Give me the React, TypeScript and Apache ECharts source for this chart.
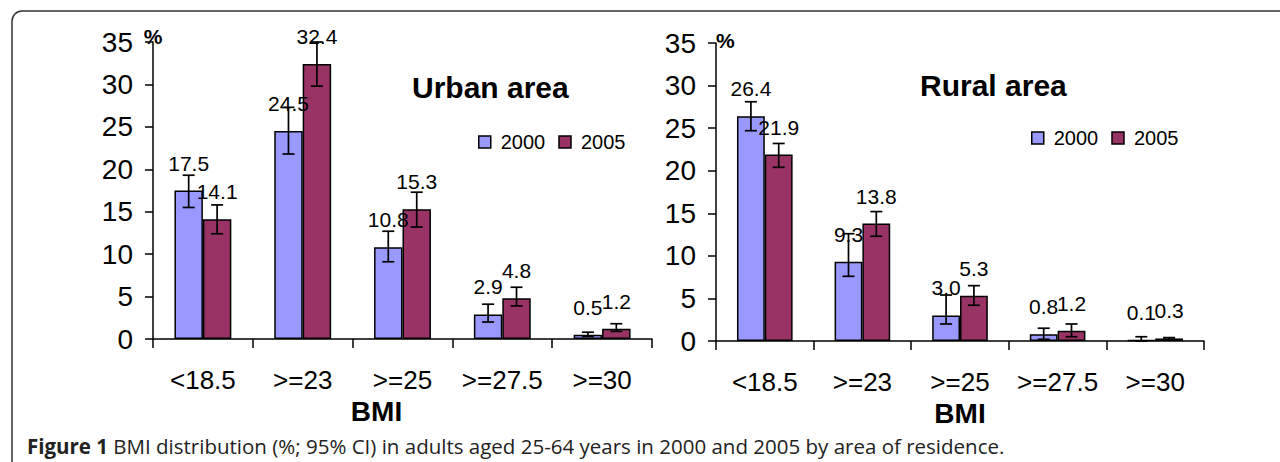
import React, { useEffect, useRef } from "react";
import * as echarts from "echarts";

const categories = ["<18.5", ">=23", ">=25", ">=27.5", ">=30"];
const yTicks = [0, 5, 10, 15, 20, 25, 30, 35];

const urban2000 = [17.5, 24.5, 10.8, 2.9, 0.5];
const urban2005 = [14.1, 32.4, 15.3, 4.8, 1.2];
const urban2000Low = [15.5, 21.8, 9.1, 2.0, 0.3];
const urban2000High = [19.3, 27.3, 12.7, 4.1, 0.8];
const urban2005Low = [12.4, 29.8, 13.2, 3.9, 0.9];
const urban2005High = [15.8, 35.0, 17.3, 6.1, 1.8];

const rural2000 = [26.4, 9.3, 3.0, 0.8, 0.1];
const rural2005 = [21.9, 13.8, 5.3, 1.2, 0.3];
const rural2000Low = [24.7, 7.6, 2.0, 0.2, 0.0];
const rural2000High = [28.1, 12.6, 5.4, 1.5, 0.5];
const rural2005Low = [20.4, 12.3, 4.2, 0.5, 0.2];
const rural2005High = [23.2, 15.2, 6.5, 2.0, 0.4];

const FONT = "'Liberation Sans', Arial, sans-serif";
const C2000 = "#9999FF";
const C2005 = "#993366";
const GAP = 0.43;

function errRenderer(sign: number) {
  return (params: any, api: any) => {
    const cat = api.value(0);
    const lo = api.coord([cat, api.value(1)]);
    const hi = api.coord([cat, api.value(2)]);
    const band = api.size([1, 0])[0];
    const barW = (band * (1 - GAP)) / 2;
    const x = lo[0] + (sign * barW) / 2;
    const cap = 6;
    const st = { stroke: "#000", lineWidth: 1.7 };
    return {
      type: "group",
      children: [
        { type: "line", shape: { x1: x, y1: hi[1], x2: x, y2: lo[1] }, style: st },
        { type: "line", shape: { x1: x - cap, y1: hi[1], x2: x + cap, y2: hi[1] }, style: st },
        { type: "line", shape: { x1: x - cap, y1: lo[1], x2: x + cap, y2: lo[1] }, style: st },
      ],
    };
  };
}

function barSeries(name: string, data: number[], color: string, idx: number) {
  return {
    type: "bar",
    name,
    xAxisIndex: idx,
    yAxisIndex: idx,
    data,
    barGap: "0%",
    barCategoryGap: GAP * 100 + "%",
    itemStyle: { color, borderColor: "#000", borderWidth: 1.5 },
    label: {
      show: true,
      position: "top",
      distance: 17,
      formatter: (p: any) => Number(p.value).toFixed(1),
      fontFamily: FONT,
      fontSize: 21,
      color: "#000",
    },
    z: 2,
  };
}

function errSeries(low: number[], high: number[], sign: number, idx: number) {
  return {
    type: "custom",
    xAxisIndex: idx,
    yAxisIndex: idx,
    renderItem: errRenderer(sign),
    data: low.map((l, i) => [i, l, high[i]]),
    encode: { x: 0, y: [1, 2] },
    z: 5,
    silent: true,
  };
}

export default function App() {
  const ref = useRef<HTMLDivElement>(null);
  useEffect(() => {
    if (!ref.current) return;
    const chart = echarts.init(ref.current, null, { renderer: "svg" });
    const yAxisBase = (idx: number, gridIndex: number) => ({
      type: "value",
      gridIndex,
      min: yTicks[0],
      max: yTicks[yTicks.length - 1],
      interval: 5,
      splitLine: { show: false },
      axisLine: { show: true, lineStyle: { color: "#000", width: 1.5 } },
      axisTick: { show: true, length: 8, lineStyle: { color: "#000", width: 1.5 } },
      axisLabel: { fontFamily: FONT, fontSize: 28, color: "#000", margin: 20 },
      name: "%",
      nameLocation: "end",
      nameGap: idx === 0 ? -5 : -8,
      nameTextStyle: {
        fontFamily: FONT,
        fontSize: 21,
        fontWeight: "bold",
        color: "#000",
        align: idx === 0 ? "center" : "left",
      },
    });
    const xAxisBase = (gridIndex: number, padRight: number) => ({
      type: "category",
      gridIndex,
      data: categories,
      axisLine: { show: true, lineStyle: { color: "#000", width: 1.5 } },
      axisTick: { show: true, length: 9, lineStyle: { color: "#000", width: 1.5 } },
      axisLabel: { interval: 0, fontFamily: FONT, fontSize: 26, color: "#000", margin: 28 },
      name: "BMI",
      nameLocation: "middle",
      nameGap: 56,
      nameTextStyle: {
        fontFamily: FONT,
        fontSize: 28,
        fontWeight: "bold",
        color: "#000",
        padding: [0, padRight, 0, 0],
      },
    });
    const legendBase = (left: number, top: number) => ({
      left,
      top,
      padding: 0,
      orient: "horizontal",
      data: ["2000", "2005"],
      itemWidth: 12,
      itemHeight: 12,
      itemGap: 13,
      icon: "rect",
      itemStyle: { borderColor: "#000", borderWidth: 1.5 },
      textStyle: { fontFamily: FONT, fontSize: 20, color: "#000", padding: [0, 0, 0, 5] },
      selectedMode: false,
    });
    chart.setOption({
      animation: false,
      grid: [
        { left: 153, top: 42, width: 499, height: 297 },
        { left: 716, top: 43, width: 488, height: 298 },
      ],
      xAxis: [xAxisBase(0, 52), xAxisBase(1, 0)],
      yAxis: [yAxisBase(0, 0), yAxisBase(1, 1)],
      legend: [legendBase(478, 132), legendBase(1031, 128)],
      title: [
        {
          text: "Urban area",
          left: 412,
          top: 72,
          padding: 0,
          textStyle: { fontFamily: FONT, fontSize: 30, fontWeight: "bold", color: "#000" },
        },
        {
          text: "Rural area",
          left: 920,
          top: 70,
          padding: 0,
          textStyle: { fontFamily: FONT, fontSize: 30, fontWeight: "bold", color: "#000" },
        },
      ],
      graphic: [
        {
          type: "rect",
          shape: { x: 12, y: 11, width: 1300, height: 500, r: 10 },
          style: { fill: "none", stroke: "#333", lineWidth: 1.5 },
          silent: true,
        },
        {
          type: "text",
          x: 27,
          y: 446,
          style: {
            text: "{b|Figure 1} BMI distribution (%; 95% CI) in adults aged 25-64 years in 2000 and 2005 by area of residence.",
            fontFamily: "'Open Sans', sans-serif",
            fontSize: 20.5,
            fill: "#222",
            verticalAlign: "middle",
            rich: {
              b: {
                fontFamily: "'Open Sans', sans-serif",
                fontSize: 20.5,
                fontWeight: "bold",
                fill: "#222",
              },
            },
          },
        },
      ],
      series: [
        barSeries("2000", urban2000, C2000, 0),
        barSeries("2005", urban2005, C2005, 0),
        errSeries(urban2000Low, urban2000High, -1, 0),
        errSeries(urban2005Low, urban2005High, 1, 0),
        barSeries("2000", rural2000, C2000, 1),
        barSeries("2005", rural2005, C2005, 1),
        errSeries(rural2000Low, rural2000High, -1, 1),
        errSeries(rural2005Low, rural2005High, 1, 1),
      ],
    });
    return () => chart.dispose();
  }, []);
  return (
    <div
      ref={ref}
      style={{ position: "absolute", left: 0, top: 0, width: 1280, height: 462, background: "#fff" }}
    />
  );
}
